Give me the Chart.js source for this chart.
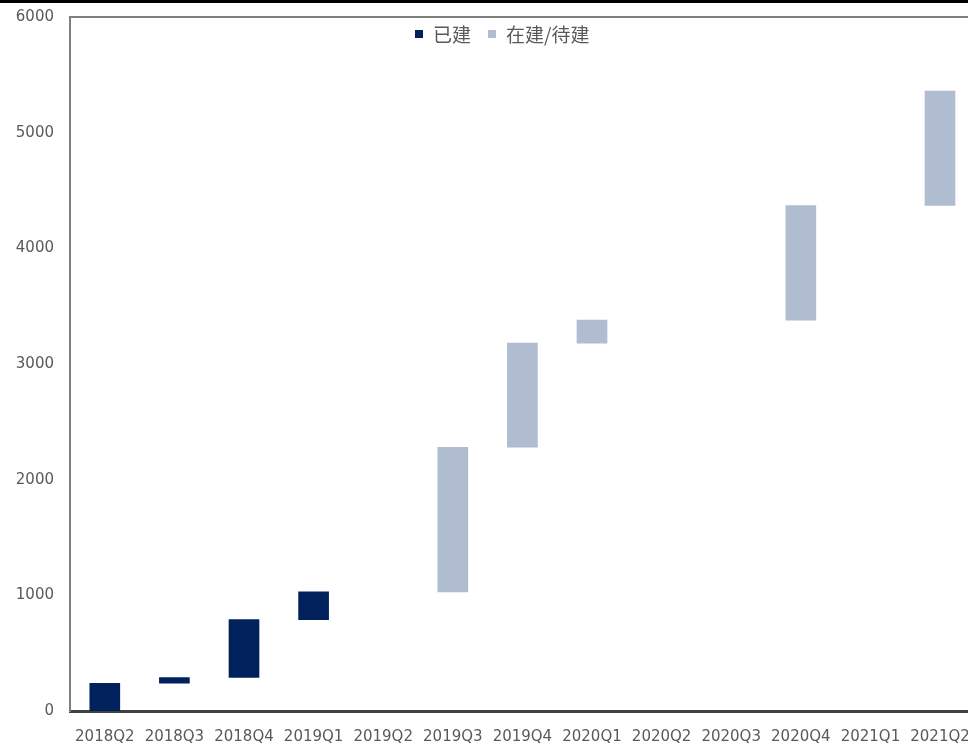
<!DOCTYPE html>
<html>
<head>
<meta charset="utf-8">
<script src="https://cdn.jsdelivr.net/npm/chart.js@4.4.1/dist/chart.umd.min.js"></script>
<style>
  html, body { margin: 0; padding: 0; background: #fff; overflow: hidden; }
  #wrap { position: relative; width: 968px; height: 745px; overflow: hidden; }
  #topline { position: absolute; left: 0; top: 0; width: 968px; height: 3px; background: #000; z-index: 2; }
  #box { position: absolute; left: 0; top: -8px; width: 987px; height: 753px; }
  #legend { position: absolute; left: 415px; top: 20px; display: flex; align-items: center;
            font-family: 'Noto Sans CJK SC', sans-serif; font-size: 19px; color: #595959; z-index: 3; }
  .legend-item { display: flex; align-items: center; margin-right: 17px; }
  .legend-box { width: 8px; height: 8px; margin-right: 10px; }
</style>
</head>
<body>
<div id="wrap">
  <div id="topline"></div>
  <div id="box"><canvas id="chart"></canvas></div>
  <div id="legend"></div>
</div>
<script>
// quarters on the x axis
const quarters = ['2018Q2', '2018Q3', '2018Q4', '2019Q1', '2019Q2', '2019Q3', '2019Q4',
                  '2020Q1', '2020Q2', '2020Q3', '2020Q4', '2021Q1', '2021Q2'];

// floating bars [from, to]
const builtRanges = [[0, 240], [240, 290], [290, 790], [790, 1030], null, null, null,
                     null, null, null, null, null, null];
const plannedRanges = [null, null, null, null, null, [1030, 2280], [2280, 3180],
                       [3180, 3380], null, null, [3380, 4370], null, [4370, 5360]];

const yTicks = [0, 1000, 2000, 3000, 4000, 5000, 6000];

const labelColor = '#595959';

// grey frame line along the top of the plot
const topBorder = {
    id: 'topBorder',
    afterDraw(chart) {
        const { ctx, chartArea } = chart;
        ctx.save();
        ctx.strokeStyle = '#7f7f7f';
        ctx.lineWidth = 2;
        ctx.beginPath();
        ctx.moveTo(chartArea.left - 1, chartArea.top);
        ctx.lineTo(chartArea.right, chartArea.top);
        ctx.stroke();
        ctx.restore();
    }
};

document.addEventListener('DOMContentLoaded', () => {
    const ctx = document.getElementById('chart').getContext('2d');
    const chart = new Chart(ctx, {
        type: 'bar',
        data: {
            labels: quarters,
            datasets: [{
                label: '已建',
                data: builtRanges,
                backgroundColor: '#00215b',
                barThickness: 30,
                grouped: false
            }, {
                label: '在建/待建',
                data: plannedRanges,
                backgroundColor: '#b0bccf',
                barThickness: 30,
                grouped: false
            }]
        },
        options: {
            responsive: true,
            maintainAspectRatio: false,
            animation: false,
            layout: { padding: { left: 0, right: 6, top: 9, bottom: 0 } },
            scales: {
                x: {
                    grid: { display: false, drawTicks: false },
                    border: { display: true, color: '#404040', width: 3 },
                    ticks: {
                        color: labelColor,
                        font: { family: 'DejaVu Sans', size: 15 },
                        padding: 17,
                        maxRotation: 0,
                        autoSkip: false
                    },
                    afterFit: (scale) => { scale.height = 34; }
                },
                y: {
                    min: 0,
                    max: 6000,
                    afterBuildTicks: (scale) => { scale.ticks = yTicks.map(v => ({ value: v })); },
                    grid: { display: false, drawTicks: false },
                    border: { display: true, color: '#7f7f7f', width: 2 },
                    ticks: {
                        color: labelColor,
                        font: { family: 'DejaVu Sans', size: 15 },
                        padding: 16,
                        callback: (v) => String(v)
                    },
                    afterFit: (scale) => { scale.width = 70; }
                }
            },
            plugins: {
                legend: { display: false },
                tooltip: { enabled: false }
            }
        },
        plugins: [topBorder]
    });

    // Legend
    const legend = document.getElementById('legend');
    chart.data.datasets.forEach(ds => {
        const item = document.createElement('span');
        item.className = 'legend-item';
        const box = document.createElement('span');
        box.className = 'legend-box';
        box.style.background = ds.backgroundColor;
        item.appendChild(box);
        item.appendChild(document.createTextNode(ds.label));
        legend.appendChild(item);
    });
});
</script>
</body>
</html>
